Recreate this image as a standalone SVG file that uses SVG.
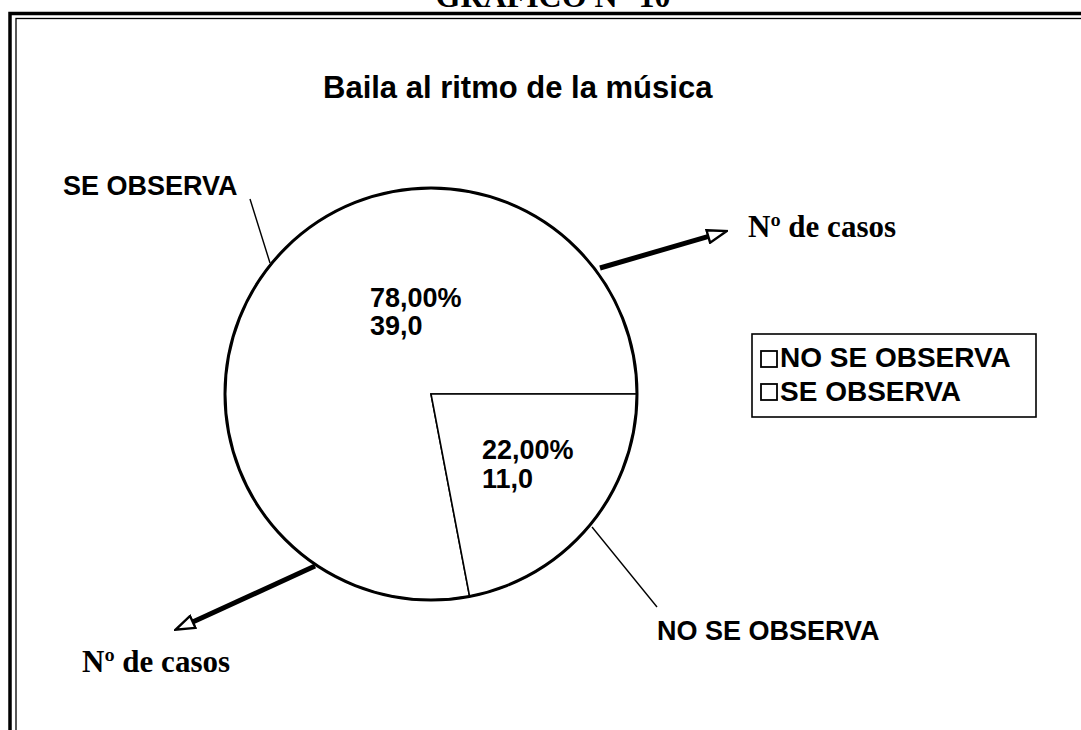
<svg xmlns="http://www.w3.org/2000/svg" width="1081" height="730" viewBox="0 0 1081 730">
<style>
.sans{font-family:"Liberation Sans",Arial,sans-serif;font-weight:bold;fill:#000}
.serif{font-family:"Liberation Serif","Times New Roman",serif;font-weight:bold;fill:#000}
.slice{fill:#fff;stroke:#000;stroke-width:1.6}
.leader{fill:none;stroke:#000;stroke-width:1.4}
.axis{fill:none;stroke:#000;stroke-width:5}
.box{fill:#fff;stroke:#000;stroke-width:1.8}
</style>
<defs>
<marker id="openArrow" viewBox="0 0 22 16" refX="1" refY="8" markerWidth="22" markerHeight="16" markerUnits="userSpaceOnUse" orient="auto">
<path d="M1.5,1.5 L20.5,8 L1.5,14.5 Z" fill="#fff" stroke="#000" stroke-width="2.4" stroke-linejoin="miter"/>
</marker>
</defs>
<rect width="1081" height="730" fill="#fff"/>
<g id="title-top">
<text class="serif" x="553" y="7" font-size="32" text-anchor="middle">GRÁFICO N° 10</text>
</g>
<g id="frame">
<rect x="10" y="13.5" width="1090" height="740" fill="none" stroke="#000" stroke-width="3.5"/>
<rect x="16" y="18.5" width="1080" height="730" fill="none" stroke="#000" stroke-width="1.3"/>
</g>
<g id="chart-title">
<text class="sans" x="323" y="98" font-size="31">Baila al ritmo de la música</text>
</g>
<g id="pie">
<g id="slice-se-observa">
<path class="slice" d="M431,394 L469.6,596.4 A206,206 0 1 1 637,394 Z"/>
</g>
<g id="slice-no-se-observa">
<path class="slice" d="M431,394 L637,394 A206,206 0 0 1 469.6,596.4 Z"/>
</g>
<circle cx="431" cy="394" r="206" fill="none" stroke="#000" stroke-width="3"/>
</g>
<g id="slice-labels">
<text class="sans" x="370" y="307" font-size="27">78,00%</text>
<text class="sans" x="370" y="335" font-size="27">39,0</text>
<text class="sans" x="482" y="459" font-size="27">22,00%</text>
<text class="sans" x="482" y="488" font-size="27">11,0</text>
</g>
<g id="connectors">
<line class="leader" x1="250" y1="199" x2="270" y2="263"/>
<line class="leader" x1="592" y1="527" x2="657" y2="607"/>
<line class="axis" x1="600" y1="268" x2="707.8" y2="236.6" marker-end="url(#openArrow)"/>
<line class="axis" x1="315" y1="566" x2="193.2" y2="621.7" marker-end="url(#openArrow)"/>
</g>
<g id="label-se-observa">
<text class="sans" x="63" y="195" font-size="27">SE OBSERVA</text>
</g>
<g id="label-no-se-observa">
<text class="sans" x="657" y="640" font-size="27">NO SE OBSERVA</text>
</g>
<g id="axis-label-top">
<text class="serif" x="748" y="237" font-size="31">Nº de casos</text>
</g>
<g id="axis-label-bottom">
<text class="serif" x="82" y="672" font-size="31">Nº de casos</text>
</g>
<g id="legend">
<rect x="752" y="334" width="284" height="83" fill="#fff" stroke="#000" stroke-width="1.6"/>
<rect class="box" x="761" y="351" width="16" height="16"/>
<text class="sans" x="780" y="367" font-size="28">NO SE OBSERVA</text>
<rect class="box" x="761" y="384" width="16" height="16"/>
<text class="sans" x="780" y="401" font-size="28">SE OBSERVA</text>
</g>
</svg>
